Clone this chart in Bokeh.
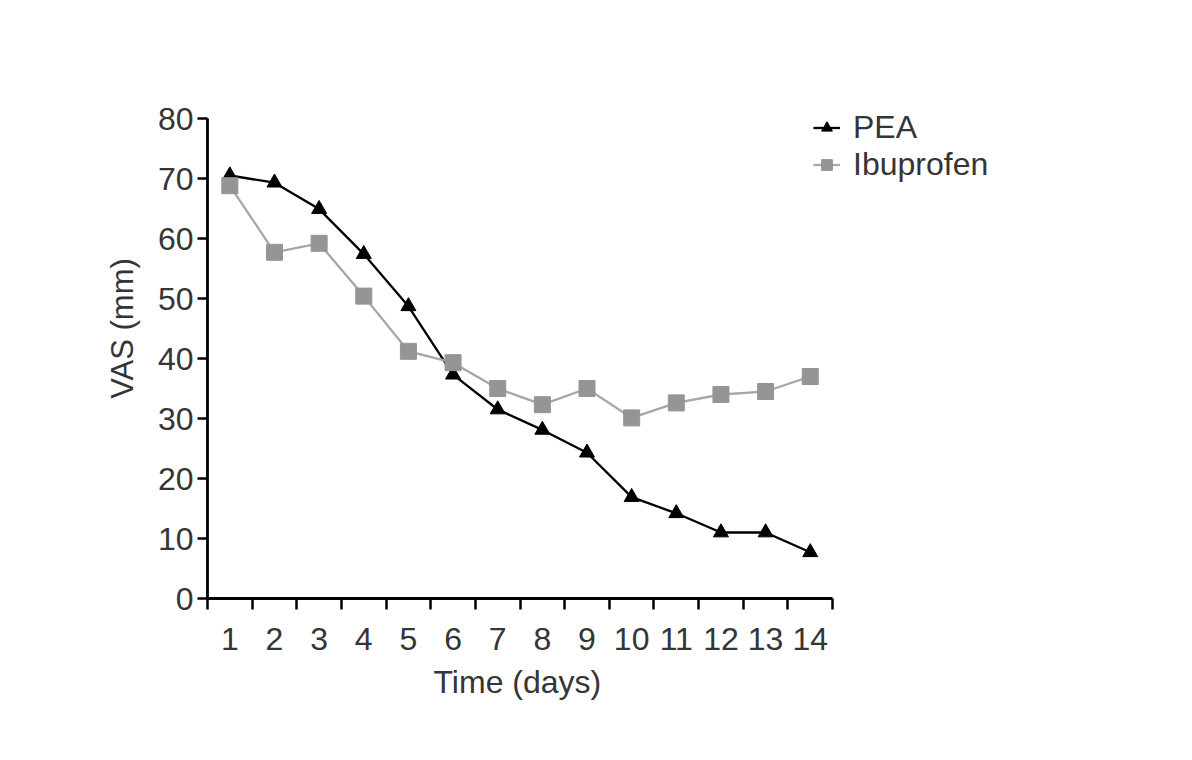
from bokeh.plotting import figure
from bokeh.models import FixedTicker, Legend, Range1d, Title
from bokeh.embed import file_html
from bokeh.resources import INLINE

days = list(range(1, 15))
pea = [70.5, 69.3, 64.9, 57.4, 48.7, 37.3, 31.5, 28.1, 24.3, 16.9, 14.2, 11.0, 11.0, 7.7]
ibuprofen = [68.8, 57.7, 59.2, 50.4, 41.2, 39.3, 35.0, 32.3, 35.0, 30.1, 32.6, 34.0, 34.5, 37.0]
y_ticks = [0, 10, 20, 30, 40, 50, 60, 70, 80]
x_bounds = [d - 0.5 for d in days] + [14.5]

FONT = "Liberation Sans"
TXT = "#353535"

# frame extends right/up to host the legend; axes limited to 0.5..14.5 and 0..80
p = figure(width=1176, height=744, output_backend="svg", toolbar_location=None,
           x_range=Range1d(0.5, 19.0), y_range=Range1d(0, 90),
           frame_width=826, frame_height=540,
           min_border_left=207, min_border_top=58, min_border_right=10, min_border_bottom=10)
p.outline_line_color = None
p.grid.visible = False
p.background_fill_color = "white"

r1 = p.line(days, pea, line_color="black", line_width=2.3)
s1 = p.scatter(days, pea, marker="triangle", size=15, fill_color="black", line_color="black")
r2 = p.line(days, ibuprofen, line_color="#a6a6a6", line_width=2.3)
s2 = p.scatter(days, ibuprofen, marker="square", size=16, fill_color="#959595", line_color="#959595")

xa = p.xaxis[0]
xa.bounds = (0.5, 14.5)
xa.ticker = FixedTicker(ticks=days, minor_ticks=x_bounds)
xa.axis_line_width = 2.8
xa.axis_line_color = "black"
xa.major_tick_out = 0
xa.major_tick_in = 0
xa.minor_tick_out = 11
xa.minor_tick_in = 0
xa.minor_tick_line_width = 2.5
xa.minor_tick_line_color = "black"
xa.major_label_standoff = 18
xa.major_label_text_font = FONT
xa.major_label_text_font_size = "32px"
xa.major_label_text_color = TXT

# x-axis title centred under the 0.5..14.5 axis span
xt = Title(text="Time (days)", align="left", offset=226, standoff=19,
           text_font=FONT, text_font_size="32px", text_font_style="normal",
           text_color=TXT)
p.add_layout(xt, "below")

ya = p.yaxis[0]
ya.bounds = (0, 80)
ya.ticker = FixedTicker(ticks=y_ticks)
ya.axis_line_width = 2.8
ya.axis_line_color = "black"
ya.major_tick_out = 10
ya.major_tick_in = 0
ya.major_tick_line_width = 2.5
ya.major_tick_line_color = "black"
ya.minor_tick_out = 0
ya.minor_tick_in = 0
ya.major_label_standoff = 4
ya.major_label_text_font = FONT
ya.major_label_text_font_size = "32px"
ya.major_label_text_color = TXT
ya.axis_label = "VAS (mm)"
ya.axis_label_text_font = FONT
ya.axis_label_text_font_size = "31px"
ya.axis_label_text_font_style = "normal"
ya.axis_label_text_color = TXT
ya.axis_label_standoff = 15

legend = Legend(items=[("PEA", [r1, s1]), ("Ibuprofen", [r2, s2])],
                location=(606, 415))
legend.border_line_color = None
legend.background_fill_alpha = 0
legend.padding = 0
legend.margin = 0
legend.spacing = 0
legend.glyph_width = 27
legend.glyph_height = 33
legend.label_height = 33
legend.label_standoff = 13
legend.label_text_font = FONT
legend.label_text_font_size = "32px"
legend.label_text_color = TXT
p.add_layout(legend, "center")

open("out.html", "w").write(file_html(p, INLINE))
